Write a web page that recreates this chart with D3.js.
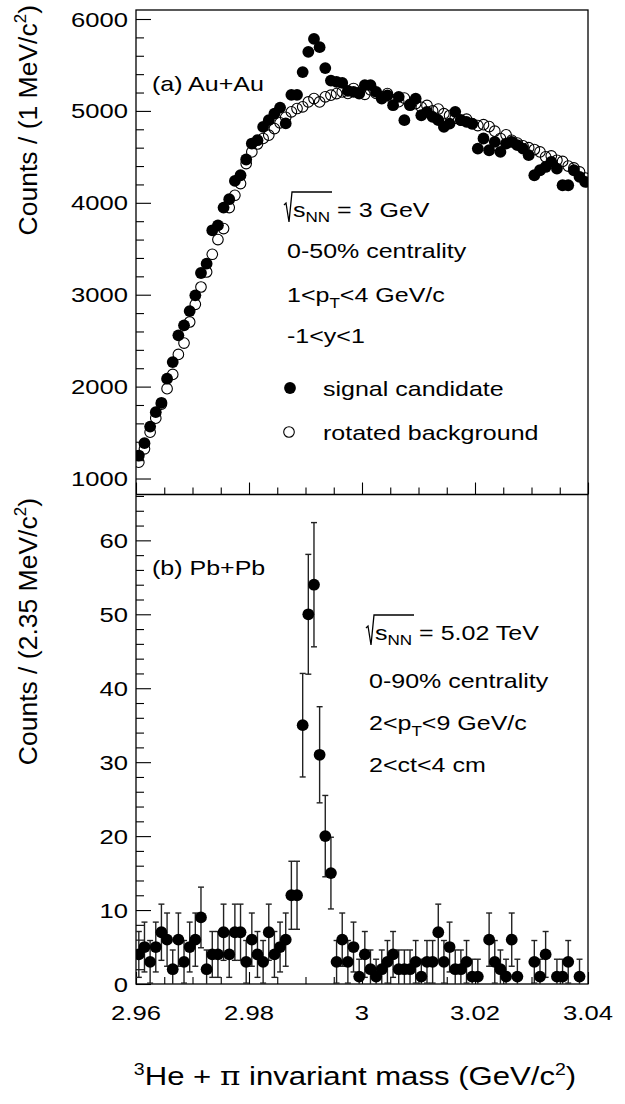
<!DOCTYPE html>
<html><head><meta charset="utf-8">
<script src="https://cdn.jsdelivr.net/npm/d3@7"></script>
<style>html,body{margin:0;padding:0;background:#fff}svg{display:block}</style>
</head><body>
<script>
// ---------- data ----------
const binCenters = d3.range(80).map(i => +(2.9605 + i * 0.001).toFixed(4));
const signalCandidate = [1250,1385,1565,1722,1824,2086,2267,2558,2667,2822,
  2993,3236,3338,3701,3755,3948,4039,4238,4300,4471,
  4645,4681,4826,4899,4971,5036,4864,5175,5175,5422,
  5643,5783,5694,5466,5330,5316,5305,5218,5207,5189,
  5280,5280,5207,5134,5170,5062,5153,4899,5062,5134,
  4953,4990,4935,4899,4826,4862,4990,4899,4880,4862,
  4590,4700,4572,4663,4554,4645,4663,4627,4590,4518,
  4300,4354,4390,4445,4372,4191,4191,4354,4282,4227];
const rotatedBackground = [1178,1323,1504,1657,1810,1977,2133,2350,2474,2703,
  2895,3084,3247,3440,3600,3720,3948,4082,4209,4427,
  4554,4640,4700,4736,4808,4870,4930,4990,5026,5044,
  5098,5134,5098,5153,5171,5189,5207,5190,5244,5200,
  5180,5230,5190,5150,5189,5120,5100,5140,5070,5080,
  5040,5060,5000,5020,4970,4950,4920,4900,4910,4860,
  4840,4850,4830,4780,4700,4740,4680,4650,4620,4600,
  4580,4554,4500,4510,4463,4450,4400,4380,4336,4270];
const pbCounts = [4,5,3,5,7,6,2,6,3,5,
  6,9,2,4,4,7,4,7,7,3,
  6,4,3,7,4,5,6,12,12,35,
  50,54,31,20,15,3,6,3,5,1,
  4,2,1,2,3,4,2,2,2,3,
  1,3,3,7,3,5,2,2,3,1,
  1,null,6,3,2,1,6,1,null,null,
  3,1,4,null,1,1,3,null,1,null];
const errCountValues = [1,2,3,4,5,6,7,9,12,15,20,31,35,50,54];
const errSizes       = [2.35,2.6,2.88,3.1,3.37,3.6,3.8,4.1,4.6,4.85,5.5,6.5,7.0,8.1,8.4];
const xTicks = [2.96, 2.98, 3.00, 3.02, 3.04];
const xTickLabels = ["2.96", "2.98", "3", "3.02", "3.04"];
const topYTicks = [1000, 2000, 3000, 4000, 5000, 6000];
const botYTicks = [0, 10, 20, 30, 40, 50, 60];

// ---------- layout ----------
const W = 625, H = 1104;
const FONT = "'Liberation Sans', Arial, Helvetica, sans-serif";
const SX = 1.22; // horizontal stretch of the original rendering
const L = 136, R = 588, T = 10, M = 494.5, B = 984;

const svg = d3.select("body").append("svg").attr("width", W).attr("height", H)
  .style("font-family", FONT);

const x = d3.scaleLinear().domain([2.96, 3.04]).range([L, R]);
const yTop = d3.scaleLinear().domain([826, 6098]).range([M, T]);
const yBot = d3.scaleLinear().domain([0, 66.2]).range([B, M]);

svg.append("defs").append("clipPath").attr("id", "clipTop")
  .append("rect").attr("x", L).attr("y", T).attr("width", R - L).attr("height", M - T);
svg.select("defs").append("clipPath").attr("id", "clipBot")
  .append("rect").attr("x", L).attr("y", M).attr("width", R - L).attr("height", B - M);

function stext(px, py, size, anchor) {
  return svg.append("text")
    .attr("transform", `translate(${px},${py}) scale(${SX},1)`)
    .attr("font-size", size).attr("text-anchor", anchor || "start").attr("fill", "#000");
}

// ---------- axes ----------
function yAxis(scale, ticks, minorStep, fmt) {
  const g = svg.append("g").attr("transform", `translate(${L},0)`);
  g.call(d3.axisRight(scale).tickValues(ticks).tickSize(15).tickFormat(""));
  const [d0, d1] = scale.domain();
  const minors = d3.range(Math.ceil(d0 / minorStep) * minorStep, d1, minorStep)
    .filter(v => !ticks.some(t => Math.abs(t - v) < 1e-9));
  g.append("g").call(d3.axisRight(scale).tickValues(minors).tickSize(8).tickFormat(""));
  g.selectAll("path.domain").remove();
  g.selectAll("line").attr("stroke", "#000").attr("stroke-width", 1.1);
  ticks.forEach(t => stext(L - 8, scale(t) + 7.5, 21, "end").text(fmt(t)));
}
yAxis(yTop, topYTicks, 200, d => d);
yAxis(yBot, botYTicks, 2, d => d);

function xAxis(yPos) {
  const g = svg.append("g").attr("transform", `translate(0,${yPos})`);
  g.call(d3.axisTop(x).tickValues(xTicks).tickSize(12).tickFormat(""));
  const minors = d3.range(0, 17).map(i => 2.96 + i * 0.005)
    .filter(v => !xTicks.some(t => Math.abs(t - v) < 1e-9));
  g.append("g").call(d3.axisTop(x).tickValues(minors).tickSize(7).tickFormat(""));
  g.selectAll("path.domain").remove();
  g.selectAll("line").attr("stroke", "#000").attr("stroke-width", 1.1);
}
xAxis(M);
xAxis(B);
xTicks.forEach((t, i) => stext(x(t), 1020, 21, "middle").text(xTickLabels[i]));

// ---------- frame ----------
svg.append("rect").attr("x", L).attr("y", T).attr("width", R - L).attr("height", B - T)
  .attr("fill", "none").attr("stroke", "#000").attr("stroke-width", 1.3);
svg.append("line").attr("x1", L).attr("x2", R).attr("y1", M).attr("y2", M)
  .attr("stroke", "#000").attr("stroke-width", 1.3);

// ---------- top panel points ----------
const gTop = svg.append("g").attr("clip-path", "url(#clipTop)");
gTop.selectAll("circle.sig").data(signalCandidate).join("circle")
  .attr("class", "sig").attr("cx", (d, i) => x(binCenters[i])).attr("cy", d => yTop(d))
  .attr("r", 5.9).attr("fill", "#000");
gTop.selectAll("circle.bkg").data(rotatedBackground).join("circle")
  .attr("class", "bkg").attr("cx", (d, i) => x(binCenters[i])).attr("cy", d => yTop(d))
  .attr("r", 5.3).attr("fill", "none").attr("stroke", "#000").attr("stroke-width", 1.1);

// ---------- bottom panel points ----------
const gBot = svg.append("g").attr("clip-path", "url(#clipBot)");
const pb = pbCounts.map((v, i) => ({x: binCenters[i], v,
  e: v == null ? 0 : errSizes[errCountValues.indexOf(v)]})).filter(d => d.v != null);
const eb = gBot.selectAll("g.eb").data(pb).join("g").attr("class", "eb")
  .attr("stroke", "#222").attr("stroke-width", 1.4);
eb.append("line").attr("x1", d => x(d.x)).attr("x2", d => x(d.x))
  .attr("y1", d => yBot(d.v + d.e)).attr("y2", d => yBot(d.v - d.e));
eb.append("line").attr("x1", d => x(d.x) - 3).attr("x2", d => x(d.x) + 3)
  .attr("y1", d => yBot(d.v + d.e)).attr("y2", d => yBot(d.v + d.e));
eb.append("line").attr("x1", d => x(d.x) - 3).attr("x2", d => x(d.x) + 3)
  .attr("y1", d => yBot(d.v - d.e)).attr("y2", d => yBot(d.v - d.e));
gBot.selectAll("circle.pb").data(pb).join("circle").attr("class", "pb")
  .attr("cx", d => x(d.x)).attr("cy", d => yBot(d.v)).attr("r", 5.9).attr("fill", "#000");

// ---------- titles ----------
function yTitle(cx, cy, main, sup, tail) {
  const t = svg.append("text").attr("transform", `translate(${cx},${cy}) rotate(-90)`)
    .attr("font-size", 26.5).attr("text-anchor", "end");
  t.append("tspan").text(main);
  t.append("tspan").attr("font-size", 17).attr("dy", -11).text(sup);
  t.append("tspan").attr("dy", 11).text(tail);
}
yTitle(37, 5, "Counts / (1 MeV/c", "2", ")");
yTitle(37, 498, "Counts / (2.35 MeV/c", "2", ")");

const xt = stext(355, 1085, 25.5, "middle");
xt.append("tspan").attr("font-size", 16).attr("dy", -10).text("3");
xt.append("tspan").attr("dy", 10).text("He + ");
xt.append("tspan").attr("font-family", "'DejaVu Serif', serif").text("π");
xt.append("tspan").text(" invariant mass (GeV/c");
xt.append("tspan").attr("font-size", 16).attr("dy", -10).text("2");
xt.append("tspan").attr("dy", 10).text(")");

// ---------- annotations ----------
function sqrtLabel(px, py, rest) {
  svg.append("path")
    .attr("d", `M${px},${py - 12} L${px + 2},${py - 14} L${px + 5},${py + 5} L${px + 8},${py - 25} L${px + 48},${py - 25}`)
    .attr("fill", "none").attr("stroke", "#000").attr("stroke-width", 1.3);
  const t = stext(px + 9, py, 20.5, "start");
  t.append("tspan").text("s");
  t.append("tspan").attr("font-size", 14).attr("dy", 5).text("NN");
  t.append("tspan").attr("dy", -5).text(rest);
}
stext(152, 91, 20.5).text("(a) Au+Au");
sqrtLabel(284, 217, " = 3 GeV");
stext(287, 258, 20.5).text("0-50% centrality");
{ const t = stext(287, 302, 20.5);
  t.append("tspan").text("1<p");
  t.append("tspan").attr("font-size", 14).attr("dy", 6).text("T");
  t.append("tspan").attr("dy", -6).text("<4 GeV/c"); }
stext(287, 343, 20.5).text("-1<y<1");
svg.append("circle").attr("cx", 290).attr("cy", 388).attr("r", 5.9).attr("fill", "#000");
stext(323, 396, 20.5).text("signal candidate");
svg.append("circle").attr("cx", 289).attr("cy", 432).attr("r", 5.3).attr("fill", "none")
  .attr("stroke", "#000").attr("stroke-width", 1.1);
stext(323, 440, 20.5).text("rotated background");

stext(152, 575, 20.5).text("(b) Pb+Pb");
sqrtLabel(366, 640, " = 5.02 TeV");
stext(369, 688, 20.5).text("0-90% centrality");
{ const t = stext(369, 730, 20.5);
  t.append("tspan").text("2<p");
  t.append("tspan").attr("font-size", 14).attr("dy", 6).text("T");
  t.append("tspan").attr("dy", -6).text("<9 GeV/c"); }
stext(369, 772, 20.5).text("2<ct<4 cm");
</script>
</body></html>
